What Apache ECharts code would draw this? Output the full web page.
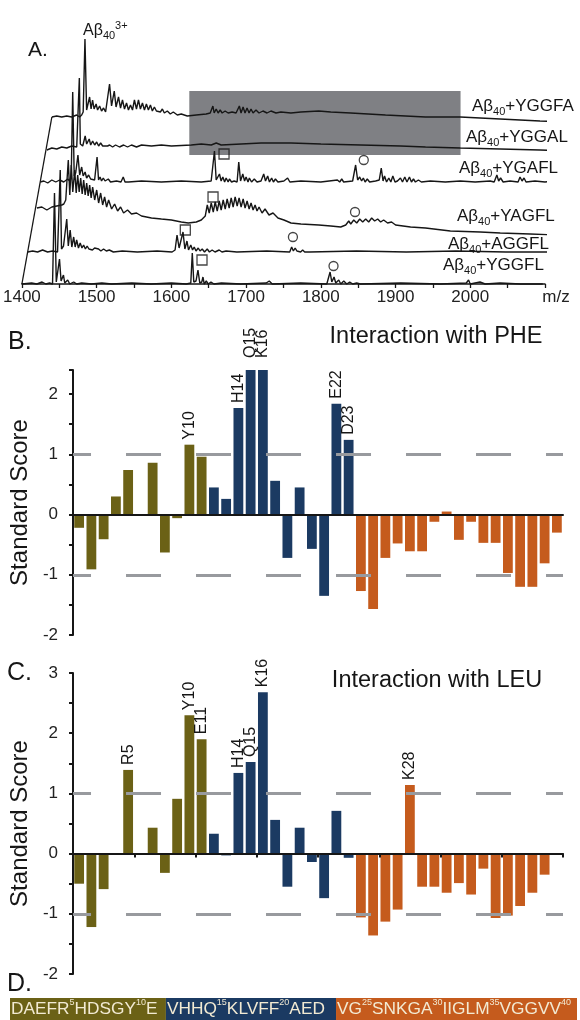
<!DOCTYPE html>
<html>
<head>
<meta charset="utf-8">
<script src="https://cdn.jsdelivr.net/npm/echarts@6/dist/echarts.min.js"></script>
<style>html,body{margin:0;padding:0;background:#fff}#chart{width:580px;height:1020px}</style>
</head>
<body>
<div id="chart"></div>
<script>
const FONT = '"Liberation Sans", Arial, Helvetica, sans-serif';

// ---------------- Panel A : mass spectra (m/z, intensity a.u.) ----------------
const TRACE_NAMES = ['YGGFL', 'AGGFL', 'YAGFL', 'YGAFL', 'YGGAL', 'YGGFA']; // bottom -> top
const MZ_MIN = 1400, MZ_MAX = 2100, MZ_STEP = 50;

const TRACE_YGGFL = [[1400,0],[1413,1],[1420,0],[1427,2],[1432,0],[1437,1],[1441,0],[1443.6,91],[1446,2],[1448,4],[1450.3,25],[1452.4,3],[1455.6,9],[1457.3,1],[1461.3,4],[1464,0],[1469.3,2],[1473.3,0],[1480,1],[1493,0],[1507,1],[1520,0],[1547,1],[1573,0],[1600,1],[1620,0],[1626,1],[1628,31],[1630,2],[1633,3],[1635.6,14],[1638,1],[1640.7,2],[1642.3,7],[1644,0],[1646.7,3],[1649.3,0],[1653,2],[1657,0],[1667,1],[1693,0],[1727,1],[1731,3],[1735,0],[1773,1],[1808,0],[1810,1],[1812.4,12],[1814.7,2],[1817.7,7],[1820,1],[1824,4],[1826.7,0],[1830.7,3],[1834.7,0],[1838.7,2],[1842.7,0],[1848,1],[1853,0],[1907,1],[1960,0],[1994.7,1],[1997.7,4],[2000,0],[2013,2],[2020,0],[2040,1],[2067,0],[2097,0]];
const TRACE_AGGFL = [[1400,0],[1406.7,1],[1413.3,0],[1420,2],[1426.7,0],[1433.3,1],[1440,0],[1442,1],[1443.6,82],[1445.3,3],[1448,6],[1452.3,33],[1454.4,6],[1456.9,22],[1459.1,5],[1461.6,15],[1463.6,5],[1465.6,12],[1468,4],[1470.3,9],[1472.7,4],[1474.9,7],[1477.3,3],[1479.6,6],[1482,3],[1484.3,5],[1486.7,2],[1489.6,4],[1492,2],[1494.9,3],[1498,1],[1501.6,3],[1505.3,1],[1509.3,2],[1514.7,0],[1526.7,1],[1546.7,0],[1573.3,1],[1593.3,0],[1597.3,2],[1599.9,17],[1602.7,4],[1607.9,20],[1610.4,3],[1613.2,11],[1615.3,2],[1618.3,7],[1620.7,2],[1622.9,5],[1625.3,1],[1628.3,4],[1630.7,1],[1633.6,3],[1636.7,0],[1640.3,3],[1643.3,0],[1646.9,2],[1650.7,0],[1656.3,2],[1660,0],[1665.6,1],[1680,0],[1720,1],[1750.7,0],[1753.3,5],[1755.6,1],[1758,4],[1760.3,1],[1762.7,3],[1765.3,0],[1768,2],[1770.7,0],[1773.3,2],[1777.3,0],[1840,1],[1906.7,0],[1973.3,1],[2040,0],[2101.3,0]];
const TRACE_YAGFL = [[1402.3,2],[1408.9,3],[1415.6,0],[1422.3,3],[1428.9,4],[1435.6,5],[1438.3,6],[1440.9,10],[1444.3,50],[1446.3,15],[1448.3,45],[1450.3,18],[1452.9,40],[1454.9,17],[1456.9,35],[1458.9,18],[1460.9,32],[1462.9,16],[1464.9,30],[1466.9,15],[1468.9,27],[1470.9,14],[1472.9,25],[1474.9,12],[1476.9,23],[1479.6,10],[1482.3,20],[1484.9,7],[1487.6,17],[1490.3,5],[1492.9,13],[1495.6,3],[1498.3,10],[1502.3,1],[1506.3,6],[1510.3,-1],[1514.3,3],[1518.3,-3],[1523.6,0],[1528.9,-4],[1535.6,-3],[1542.3,-6],[1555.6,-8],[1568.9,-9],[1582.3,-10],[1595.6,-12],[1604.9,-13],[1615.6,-12],[1622.3,-10],[1627.6,-6],[1630.3,5],[1632.9,-3],[1635.6,7],[1638.3,-2],[1640.9,8],[1643.6,-1],[1646.3,9],[1648.9,0],[1651.6,10],[1654.3,1],[1656.9,11],[1659.6,2],[1662.3,12],[1664.9,3],[1667.6,13],[1670.3,4],[1672.9,12],[1675.6,3],[1678.3,11],[1680.9,2],[1683.6,9],[1686.3,1],[1688.9,7],[1691.6,0],[1694.3,5],[1696.9,-1],[1699.6,3],[1703.6,-3],[1707.6,1],[1712.9,-5],[1718.3,-3],[1724.9,-8],[1732.9,-10],[1742.3,-13],[1755.6,-14],[1779.6,-15],[1795.6,-16],[1808.9,-17],[1815.6,-15],[1819.6,-11],[1822.3,-14],[1826.3,-10],[1830.3,-13],[1834.3,-9],[1838.3,-12],[1842.3,-9],[1846.3,-12],[1850.3,-8],[1854.3,-11],[1858.3,-9],[1862.3,-12],[1866.3,-10],[1871.6,-13],[1876.9,-12],[1882.3,-15],[1902.3,-17],[1922.3,-18],[1955.6,-21],[1995.6,-22],[2022.3,-23],[2062.3,-24],[2099.6,-25]];
const TRACE_YGAFL = [[1400,0],[1404.8,1],[1410.1,-1],[1415.5,2],[1420.8,0],[1426.1,2],[1431.5,0],[1436.8,3],[1439.5,1],[1441.5,4],[1443.5,90],[1445.5,6],[1447.5,9],[1450.5,27],[1452.8,7],[1455.5,15],[1457.5,6],[1460.1,10],[1462.1,4],[1464.8,7],[1467.5,3],[1470.1,5],[1472.8,2],[1476.1,25],[1478.1,2],[1480.1,5],[1482.1,1],[1484.4,4],[1486.8,1],[1491.1,3],[1494.1,0],[1502.1,1],[1508.1,0],[1511.1,5],[1513.5,0],[1515.5,2],[1518.1,0],[1535.5,1],[1562.1,0],[1588.8,1],[1615.5,0],[1628.8,1],[1631.2,2],[1633.2,31],[1635.5,2],[1639.9,8],[1642.1,1],[1644.4,5],[1646.8,0],[1648.8,4],[1651.5,0],[1653.2,3],[1656.1,0],[1659.5,1],[1663.5,0],[1665.7,20],[1668.1,1],[1671.1,8],[1673.5,1],[1675.5,5],[1678.1,0],[1679.9,4],[1682.8,0],[1686.5,3],[1690.1,0],[1695.5,1],[1699.1,8],[1701.5,1],[1704.4,6],[1706.8,0],[1709.7,4],[1712.1,0],[1714.8,3],[1718.1,0],[1726.1,1],[1731.1,4],[1734.1,0],[1748.8,1],[1775.5,0],[1797.7,2],[1800.8,0],[1803.5,3],[1806.1,0],[1818.1,1],[1820.1,2],[1822.1,17],[1824.8,2],[1827.5,5],[1830.1,1],[1832.4,4],[1834.8,0],[1837.7,3],[1840.8,0],[1848.8,1],[1853.7,2],[1856.4,14],[1858.8,1],[1860.8,6],[1863.5,0],[1866.5,4],[1869.2,0],[1871.9,6],[1874.8,0],[1878.1,1],[1882.1,4],[1884.8,0],[1887.9,5],[1890.8,0],[1894.1,5],[1896.8,0],[1899.5,3],[1902.1,0],[1906.1,2],[1910.1,0],[1922.1,1],[1942.1,0],[1962.1,1],[1982.1,0],[2002.1,1],[2007.5,0],[2011.1,7],[2013.5,1],[2016.1,4],[2019.5,0],[2028.8,1],[2039.5,0],[2042.1,5],[2044.8,1],[2047.5,4],[2050.1,0],[2062.1,1],[2075.5,0],[2088.8,1],[2099.5,0]];
const TRACE_YGGAL = [[1401.2,0],[1407.9,2],[1414.5,1],[1421.2,3],[1427.9,2],[1434.5,4],[1441.2,3],[1443.6,5],[1444.7,72],[1446,6],[1449.2,4],[1452.5,14],[1454.5,6],[1457.9,11],[1459.9,5],[1462.5,9],[1465.2,5],[1467.9,8],[1470.5,4],[1473.2,7],[1475.9,4],[1478.5,6],[1482.5,4],[1485.2,5],[1489.2,3],[1493.2,5],[1498.5,3],[1503.9,5],[1509.2,3],[1514.5,5],[1521.2,3],[1527.9,5],[1541.2,4],[1554.5,5],[1567.9,4],[1594.5,5],[1607.9,6],[1621.2,5],[1627.9,7],[1634.5,5],[1661.2,6],[1687.9,7],[1727.9,7],[1767.9,6],[1821.2,5],[1874.5,4],[1907.9,3],[1954.5,2],[2007.9,1],[2061.2,0],[2098.5,-1]];
const TRACE_YGGFA = [[1400,0],[1406.5,1],[1413.2,0],[1419.9,1],[1426.5,0],[1433.2,2],[1437.2,0],[1439.9,2],[1441.9,5],[1444.3,78],[1446.5,7],[1448.5,9],[1450.5,20],[1452.5,8],[1454.5,17],[1456.5,8],[1459.2,13],[1461.2,7],[1463.9,11],[1466.5,6],[1469.2,9],[1471.9,5],[1474.5,7],[1477.2,33],[1479.9,11],[1483.5,26],[1485.9,10],[1489.2,20],[1491.9,9],[1494.5,17],[1497.2,8],[1499.9,14],[1502.5,7],[1505.2,12],[1507.9,7],[1510.5,17],[1513.2,8],[1515.9,17],[1518.5,8],[1521.2,14],[1523.9,7],[1526.5,13],[1529.2,7],[1531.9,12],[1534.5,6],[1537.2,10],[1539.9,6],[1542.5,8],[1545.2,5],[1547.9,8],[1550.5,4],[1554.5,6],[1558.5,3],[1562.5,5],[1567.9,2],[1573.2,3],[1581.2,1],[1593.2,2],[1606.5,3],[1611.9,4],[1615.5,11],[1617.2,4],[1619.9,8],[1622.5,4],[1625.2,7],[1627.9,4],[1631.9,6],[1635.9,4],[1641.2,5],[1646.5,4],[1650.9,11],[1653.2,4],[1655.9,10],[1658.5,4],[1661.2,9],[1663.9,4],[1666.5,8],[1669.2,4],[1673.2,7],[1677.2,4],[1682.5,6],[1687.9,4],[1693.2,6],[1699.9,4],[1706.5,5],[1719.9,4],[1733.2,5],[1757.2,6],[1773.2,5],[1799.9,4],[1846.5,2],[1899.9,0],[1946.5,0],[1999.9,-2],[2053.2,-4],[2099.9,-5]];
const TRACES = [TRACE_YGGFL, TRACE_AGGFL, TRACE_YAGFL, TRACE_YGAFL, TRACE_YGGAL, TRACE_YGGFA];

// complex markers: [trace index, m/z, height]
const MARK_SQUARE = [[0,1641,24],[1,1611,22],[2,1638,13],[3,1646,28]];   // 1:1 complex
const MARK_CIRCLE = [[0,1817,18],[1,1755,15],[2,1828,-2],[3,1833,22]];   // 1:2 complex
// highlighted m/z window (gray box) and its height range in plot units
const HIGHLIGHT_MZ = [1624, 1987];
const HIGHLIGHT_H = [129, 193];

// ---------------- Panels B / C : standard scores per residue ----------------
const SEQUENCE = 'DAEFRHDSGYEVHHQKLVFFAEDVGSNKGAIIGLMVGGVV'.split('');
const RESIDUES = SEQUENCE.map((a, i) => String(i + 1));
const SEGMENT_ENDS = [11, 23, 40];   // N-terminal / central / C-terminal regions
const SCORE_PHE = [-0.22,-0.91,-0.41,0.30,0.74,0,0.86,-0.63,-0.06,1.16,0.96,0.45,0.26,1.77,2.40,2.40,0.56,-0.72,0.45,-0.57,-1.35,1.84,1.24,-1.27,-1.57,-0.72,-0.48,-0.61,-0.61,-0.12,0.05,-0.42,-0.12,-0.47,-0.47,-0.97,-1.20,-1.20,-0.81,-0.30];
const SCORE_LEU = [-0.50,-1.22,-0.59,0,1.39,0,0.43,-0.32,0.91,2.30,1.90,0.33,-0.03,1.34,1.52,2.68,0.56,-0.55,0.43,-0.14,-0.74,0.71,-0.07,-1.06,-1.36,-1.13,-0.93,1.14,-0.55,-0.55,-0.65,-0.49,-0.68,-0.25,-1.07,-1.03,-0.87,-0.65,-0.35,0];
const LABELED_PHE = [10,14,15,16,22,23];
const LABELED_LEU = [5,10,11,14,15,16,28];
const THRESHOLDS = [1, -1];

// ---------------- styling ----------------
const SEG_COLORS = ['#6b6116', '#1b3a62', '#c55b1d'];
const SEG_TEXT = '#f2ead3';
const INK = '#161616';

// waterfall layout of panel A
const STACK_DY = [0, 32, 74, 102, 134, 167];
const SHIFT_PER_DY = 0.24;

const chart = echarts.init(document.getElementById('chart'), null, {renderer: 'canvas'});

function segOf(resNo) { return SEGMENT_ENDS.findIndex(e => resNo <= e); }

const series = [];

// slant line + gray highlight
const topIdx = STACK_DY.length - 1;
series.push({
  type: 'line', xAxisIndex: 0, yAxisIndex: 0, z: 1, silent: true, symbol: 'none', clip: false,
  data: [[MZ_MIN, 0], [MZ_MIN + STACK_DY[topIdx] * SHIFT_PER_DY, STACK_DY[topIdx]]],
  lineStyle: {color: INK, width: 1.3},
  markArea: {
    silent: true,
    itemStyle: {color: '#7f8084', opacity: 1},
    data: [[{coord: [HIGHLIGHT_MZ[0], HIGHLIGHT_H[0]]}, {coord: [HIGHLIGHT_MZ[1], HIGHLIGHT_H[1]]}]]
  }
});
TRACES.forEach((tr, i) => {
  const dy = STACK_DY[i], dx = dy * SHIFT_PER_DY;
  series.push({
    type: 'line', name: TRACE_NAMES[i], xAxisIndex: 0, yAxisIndex: 0, z: 3, silent: true,
    symbol: 'none', clip: false,
    data: tr.map(p => [p[0] + dx, p[1] + dy]),
    lineStyle: {color: INK, width: 1.4}
  });
});
function markerSeries(list, symbol, size) {
  return {
    type: 'scatter', xAxisIndex: 0, yAxisIndex: 0, z: 4, silent: true, symbol, symbolSize: size,
    data: list.map(m => [m[1] + STACK_DY[m[0]] * SHIFT_PER_DY, m[2] + STACK_DY[m[0]]]),
    itemStyle: {color: 'rgba(255,255,255,0)', borderColor: INK, borderWidth: 1.3}
  };
}
series.push(markerSeries(MARK_SQUARE, 'rect', 10));
series.push(markerSeries(MARK_CIRCLE, 'circle', 9));

function barSeries(gi, values, labeled, bigDist) {
  return {
    type: 'bar', xAxisIndex: gi, yAxisIndex: gi, barWidth: '80%', silent: true,
    data: values.map((v, i) => {
      const no = i + 1;
      const d = {value: v, itemStyle: {color: SEG_COLORS[segOf(no)]}};
      if (labeled.includes(no)) {
        d.label = {show: true, formatter: SEQUENCE[i] + no};
        if (bigDist && v >= 2.4) d.label.distance = 12;
      }
      return d;
    }),
    label: {show: false, position: 'top', rotate: 90, align: 'left', verticalAlign: 'middle',
            distance: 5, fontSize: 16, fontFamily: FONT, color: INK},
    markLine: {
      silent: true, symbol: ['none', 'none'], z: 6, label: {show: false},
      lineStyle: {color: '#989a9e', width: 3, type: [35, 35], dashOffset: 17},
      data: THRESHOLDS.map(t => ({yAxis: t}))
    }
  };
}
series.push(barSeries(1, SCORE_PHE, LABELED_PHE, true));
series.push(barSeries(2, SCORE_LEU, LABELED_LEU, false));

// Panel D : sequence strip
let start = 0;
SEGMENT_ENDS.forEach((end, s) => {
  let txt = '';
  for (let r = start + 1; r <= end; r++) {
    txt += SEQUENCE[r - 1] + (r % 5 === 0 ? '{s|' + r + '}' : '');
  }
  series.push({
    type: 'bar', xAxisIndex: 3, yAxisIndex: 3, stack: 'seq', barWidth: '100%', silent: true,
    data: [end - start],
    itemStyle: {color: SEG_COLORS[s]},
    label: {show: true, position: 'insideLeft', distance: 1, formatter: txt,
            color: SEG_TEXT, fontSize: 17.3, fontFamily: FONT, lineHeight: 22,
            rich: {s: {fontSize: 9, lineHeight: 13, verticalAlign: 'top', color: SEG_TEXT, fontFamily: FONT}}}
  });
  start = end;
});

const yScoreAxis = (gi, max) => ({
  gridIndex: gi, type: 'value', min: -2, max: max, interval: 0.5,
  axisLine: {show: true, lineStyle: {color: INK, width: 2}},
  axisTick: {show: true, length: 4, lineStyle: {color: INK, width: 2}},
  axisLabel: {margin: 15, fontSize: 17, fontFamily: FONT, color: '#222',
              formatter: v => Number.isInteger(v) ? String(v) : ''},
  splitLine: {show: false},
  name: 'Standard Score', nameLocation: 'middle', nameGap: 36,
  nameTextStyle: {fontSize: 24, fontFamily: FONT, color: INK}
});
const xCatAxis = (gi, ticks) => ({
  gridIndex: gi, type: 'category', data: RESIDUES, z: 10,
  axisLine: {onZero: true, lineStyle: {color: INK, width: 2}},
  axisTick: {show: ticks, interval: 4, length: 4, lineStyle: {color: INK, width: 2}},
  axisLabel: {show: false}
});

const richA = {sub: {fontSize: 11, lineHeight: 14, verticalAlign: 'bottom', fontFamily: FONT, fill: INK}};
const traceLabels = [
  ['YGGFA', 472, 106], ['YGGAL', 466, 137], ['YGAFL', 459, 168],
  ['YAGFL', 457, 216], ['AGGFL', 448, 244], ['YGGFL', 443, 265]
];
const graphic = [];
const txt = (text, x, y, size, align, rich) => ({
  type: 'text', x, y, silent: true, z: 20,
  style: {text, fill: INK, fontSize: size, fontFamily: FONT, align: align || 'left',
          verticalAlign: 'middle', lineHeight: size + 5, rich: rich}
});
traceLabels.forEach(t => graphic.push(txt('Aβ{sub|40}+' + t[0], t[1], t[2], 17, 'left', richA)));
graphic.push(txt('Aβ{sub|40}{sup|3+}', 83, 31, 16, 'left', {
  sub: {fontSize: 11, lineHeight: 14, verticalAlign: 'bottom', fontFamily: FONT, fill: INK},
  sup: {fontSize: 11, lineHeight: 8, verticalAlign: 'top', fontFamily: FONT, fill: INK}}));
graphic.push(txt('A.', 28, 50, 21));
graphic.push(txt('B.', 8, 342, 25));
graphic.push(txt('C.', 7, 673, 25));
graphic.push(txt('D.', 7, 984, 25));
graphic.push(txt('Interaction with PHE', 436, 337, 23.5, 'center'));
graphic.push(txt('Interaction with LEU', 437, 681, 23.5, 'center'));

chart.setOption({
  animation: false,
  textStyle: {fontFamily: FONT},
  grid: [
    {left: 20, top: 34, width: 525, height: 250},
    {left: 68, top: 370, width: 495, height: 265},
    {left: 68, top: 673, width: 495, height: 301},
    {left: 10, top: 998, width: 567, height: 22}
  ],
  xAxis: [
    {gridIndex: 0, type: 'value', min: MZ_MIN, max: MZ_MAX, interval: MZ_STEP,
     axisLine: {lineStyle: {color: INK, width: 1.5}},
     axisTick: {length: 4, lineStyle: {color: INK, width: 1.3}},
     splitLine: {show: false},
     axisLabel: {margin: 5, fontSize: 17, fontFamily: FONT, color: '#222',
       formatter: v => v === MZ_MAX ? '{mz|m/z}' : (v % 100 === 0 ? String(v) : ''),
       rich: {mz: {padding: [0, 0, 0, 22], fontSize: 17, fontFamily: FONT, color: '#222'}}}},
    xCatAxis(1, false),
    xCatAxis(2, true),
    {gridIndex: 3, type: 'value', min: 0, max: SEQUENCE.length, show: false}
  ],
  yAxis: [
    {gridIndex: 0, type: 'value', min: 0, max: 250, show: false},
    yScoreAxis(1, 2.4),
    yScoreAxis(2, 3),
    {gridIndex: 3, type: 'category', data: ['Aβ40'], show: false}
  ],
  graphic: graphic,
  series: series
});
</script>
</body>
</html>
